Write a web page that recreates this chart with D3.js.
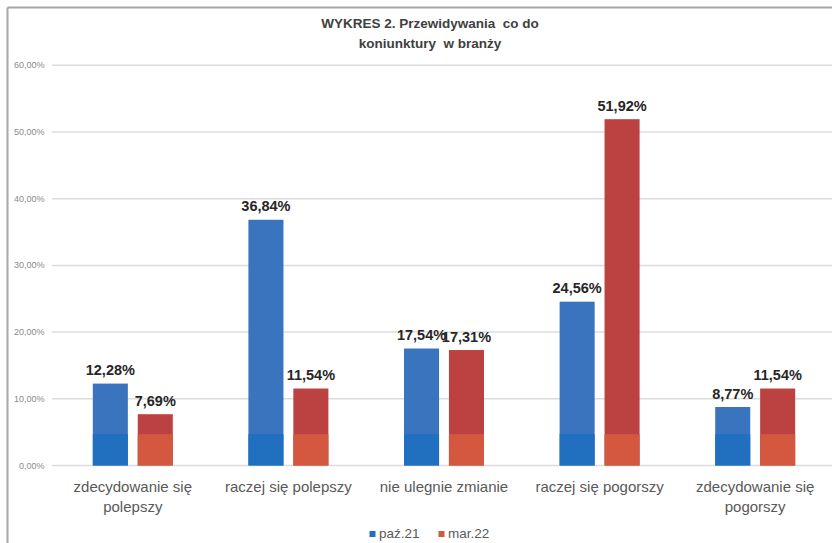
<!DOCTYPE html>
<html>
<head>
<meta charset="utf-8">
<script src="https://cdn.jsdelivr.net/npm/d3@7"></script>
<style>
  html, body { margin: 0; padding: 0; background: #fff; }
  svg { display: block; }
</style>
</head>
<body>
<svg id="chart" width="832" height="543"></svg>
<script>
// ---- data ----
const categories = [
  ["zdecydowanie się", "polepszy"],
  ["raczej się polepszy"],
  ["nie ulegnie zmianie"],
  ["raczej się pogorszy"],
  ["zdecydowanie się", "pogorszy"]
];
const seriesNames = ["paź.21", "mar.22"];
const paz21 = [12.28, 36.84, 17.54, 24.56, 8.77];
const mar22 = [7.69, 11.54, 17.31, 51.92, 11.54];
const yTicks = [0, 10, 20, 30, 40, 50, 60];
const yTickLabels = ["0,00%", "10,00%", "20,00%", "30,00%", "40,00%", "50,00%", "60,00%"];
const titleLines = ["WYKRES 2. Przewidywania  co do", "koniunktury  w branży"];
const lowerBandValue = 4.7; // tint change of the bars (scan artefact)

// ---- styles ----
const colorsTop = ["#3a74bf", "#bc4141"];
const colorsBottom = ["#2070bf", "#d3583f"];
const font = "'Liberation Sans', Arial, sans-serif";

const svg = d3.select("#chart");
const W = 832, H = 543;

const seriesValues = [paz21, mar22];
const catIdx = categories.map((c, i) => i);

const x0 = d3.scaleBand().domain(catIdx).range([55, 833]).paddingInner(0.486).paddingOuter(0.243);
const x1 = d3.scaleBand().domain([0, 1]).range([0, x0.bandwidth()]).paddingInner(0.22).paddingOuter(0);
const y = d3.scaleLinear().domain([0, 60]).range([465.5, 65.3]);

// frame
svg.append("line").attr("x1", 7.5).attr("x2", 7.5).attr("y1", 7.5).attr("y2", H)
  .attr("stroke", "#a6a6a6").attr("stroke-width", 2);
svg.append("line").attr("x1", 7.5).attr("x2", W).attr("y1", 7.5).attr("y2", 7.5)
  .attr("stroke", "#a6a6a6").attr("stroke-width", 2);

// title
const title = svg.append("text").attr("x", 430).attr("y", 28)
  .attr("text-anchor", "middle").attr("font-family", font).attr("font-weight", "bold")
  .attr("font-size", "13.5px").attr("fill", "#404040").attr("xml:space", "preserve");
titleLines.forEach((t, i) => {
  title.append("tspan").attr("x", 430).attr("y", 28 + i * 20).text(t);
});

// gridlines
svg.append("g").selectAll("line").data(yTicks).join("line")
  .attr("x1", 52).attr("x2", W)
  .attr("y1", d => y(d)).attr("y2", d => y(d))
  .attr("stroke", "#dcdcdc").attr("stroke-width", 1.5);

// y tick labels
svg.append("g").selectAll("text").data(yTicks).join("text")
  .attr("x", 44.5).attr("y", d => y(d) + 3)
  .attr("text-anchor", "end").attr("font-family", font).attr("font-size", "9px")
  .attr("fill", "#8a8a8a")
  .text((d, i) => yTickLabels[i]);

// bars
const fmt = v => d3.format(".2f")(v).replace(".", ",") + "%";
const barsG = svg.append("g");
seriesValues.forEach((vals, s) => {
  const g = barsG.append("g");
  g.selectAll("rect.top").data(vals).join("rect").attr("class", "top")
    .attr("x", (d, i) => x0(i) + x1(s))
    .attr("width", x1.bandwidth())
    .attr("y", d => y(d))
    .attr("height", d => y(0) - y(d))
    .attr("fill", colorsTop[s]);
  g.selectAll("rect.bottom").data(vals).join("rect").attr("class", "bottom")
    .attr("x", (d, i) => x0(i) + x1(s))
    .attr("width", x1.bandwidth())
    .attr("y", d => y(Math.min(d, lowerBandValue)))
    .attr("height", d => y(0) - y(Math.min(d, lowerBandValue)))
    .attr("fill", colorsBottom[s]);
});

// value labels
seriesValues.forEach((vals, s) => {
  svg.append("g").selectAll("text").data(vals).join("text")
    .attr("x", (d, i) => x0(i) + x1(s) + x1.bandwidth() / 2)
    .attr("y", d => y(d) - 8.5)
    .attr("text-anchor", "middle").attr("font-family", font).attr("font-weight", "bold")
    .attr("font-size", "14.5px").attr("fill", "#262626")
    .text(d => fmt(d));
});

// category labels
const catG = svg.append("g");
categories.forEach((lines, i) => {
  const t = catG.append("text").attr("text-anchor", "middle")
    .attr("font-family", font).attr("font-size", "15px").attr("fill", "#595959");
  lines.forEach((ln, j) => {
    t.append("tspan").attr("x", x0(i) + x0.bandwidth() / 2).attr("y", 492 + j * 20).text(ln);
  });
});

// legend
const legend = svg.append("g");
const legendX = [369.5, 438.5];
seriesNames.forEach((n, s) => {
  legend.append("rect").attr("x", legendX[s]).attr("y", 531).attr("width", 6).attr("height", 6)
    .attr("fill", colorsBottom[s]);
  legend.append("text").attr("x", legendX[s] + 9.5).attr("y", 537.5)
    .attr("font-family", font).attr("font-size", "13.5px").attr("fill", "#595959")
    .text(n);
});
</script>
</body>
</html>
